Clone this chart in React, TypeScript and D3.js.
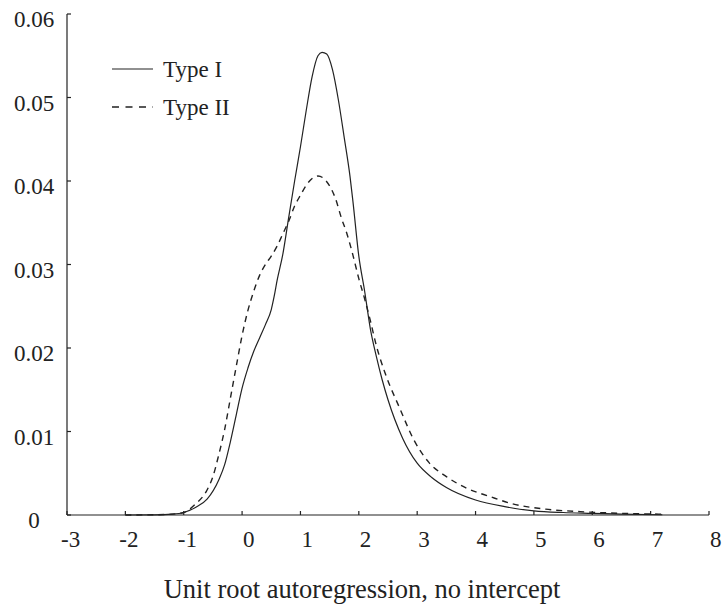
import React from "react";
import * as d3 from "d3";

const xTicks = [-3, -2, -1, 0, 1, 2, 3, 4, 5, 6, 7, 8];
const yTicks = [0, 0.01, 0.02, 0.03, 0.04, 0.05, 0.06];
const yTickLabels = ["0", "0.01", "0.02", "0.03", "0.04", "0.05", "0.06"];
const seriesNames = ["Type I", "Type II"];
const xTitle = "Unit root autoregression, no intercept";

const typeIx = [-2.0, -1.5, -1.2, -1.0, -0.8, -0.6, -0.4, -0.3, -0.2, -0.1, 0.0, 0.1, 0.2, 0.3, 0.4, 0.5, 0.55, 0.6, 0.7, 0.8, 0.9, 1.0, 1.1, 1.2, 1.3, 1.37, 1.45, 1.55, 1.65, 1.75, 1.85, 1.9, 2.0, 2.1, 2.2, 2.3, 2.4, 2.5, 2.75, 3.0, 3.25, 3.5, 4.0, 4.5, 5.0, 5.5, 6.0, 6.5, 7.2];
const typeIy = [0, 0.00002, 0.0001, 0.0003, 0.0009, 0.0019, 0.0042, 0.006, 0.0088, 0.012, 0.0152, 0.0176, 0.0196, 0.0212, 0.0228, 0.0246, 0.0262, 0.0281, 0.0313, 0.0357, 0.04, 0.0441, 0.0485, 0.0525, 0.055, 0.0554, 0.0552, 0.0533, 0.0497, 0.0452, 0.0405, 0.0375, 0.031, 0.0268, 0.0222, 0.019, 0.0162, 0.0138, 0.0092, 0.0062, 0.0045, 0.0033, 0.0018, 0.001, 0.0005, 0.0003, 0.0002, 0.0001, 0.00003];

const typeIIx = [-2.0, -1.5, -1.2, -1.0, -0.8, -0.6, -0.5, -0.4, -0.3, -0.2, -0.1, 0.0, 0.1, 0.2, 0.3, 0.4, 0.5, 0.6, 0.7, 0.8, 0.9, 1.0, 1.1, 1.2, 1.3, 1.4, 1.5, 1.6, 1.7, 1.8, 1.9, 2.0, 2.1, 2.2, 2.3, 2.45, 2.7, 2.95, 3.2, 3.5, 3.85, 4.25, 4.6, 5.2, 5.8, 6.5, 7.2];
const typeIIy = [0, 0.00003, 0.0001, 0.0003, 0.0013, 0.003, 0.0046, 0.0072, 0.0102, 0.014, 0.0178, 0.0215, 0.0245, 0.0268, 0.0287, 0.03, 0.031, 0.0322, 0.0337, 0.0352, 0.037, 0.0383, 0.0395, 0.0403, 0.0406, 0.0403, 0.0394, 0.0379, 0.0356, 0.0336, 0.0311, 0.0283, 0.0259, 0.0232, 0.0203, 0.017, 0.0128, 0.0089, 0.0063, 0.0046, 0.0032, 0.0022, 0.0014, 0.0007, 0.0004, 0.0002, 0.0001];

const W = 724;
const H = 612;
const INK = "#222";
const FONT = "'Liberation Serif', 'Times New Roman', serif";

export default function App() {
  const x = d3.scaleLinear().domain([-3, 8]).range([67, 709]);
  const y = d3.scaleLinear().domain([0, 0.06]).range([515, 14]);
  const line = d3
    .line<[number, number]>()
    .x((d) => x(d[0]))
    .y((d) => y(d[1]))
    .curve(d3.curveMonotoneX);
  const s1 = typeIx.map((v, i) => [v, typeIy[i]] as [number, number]);
  const s2 = typeIIx.map((v, i) => [v, typeIIy[i]] as [number, number]);

  return (
    <svg
      width={W}
      height={H}
      style={{ position: "absolute", left: 0, top: 0, background: "#fff" }}
      fontFamily={FONT}
    >
      <rect width={W} height={H} fill="#fff" />
      {/* axes */}
      <line x1={x(-3)} x2={x(-3)} y1={y(0.06)} y2={y(0)} stroke={INK} strokeWidth={1.2} />
      <line x1={x(-3)} x2={x(8)} y1={y(0)} y2={y(0)} stroke={INK} strokeWidth={1.2} />
      {yTicks.map((t, i) => (
        <g key={"y" + i}>
          <line x1={x(-3)} x2={x(-3) + 4} y1={y(t)} y2={y(t)} stroke={INK} strokeWidth={1.2} />
          <text x={34} y={y(t) + 13} textAnchor="middle" fontSize={23} fill={INK}>
            {yTickLabels[i]}
          </text>
        </g>
      ))}
      {xTicks.map((t, i) => (
        <g key={"x" + i}>
          <line x1={x(t)} x2={x(t)} y1={y(0)} y2={y(0) - 4} stroke={INK} strokeWidth={1.2} />
          <text x={x(t) + (t < 0 ? -6 : 1)} y={547} textAnchor="start" fontSize={23} fill={INK}>
            {String(t)}
          </text>
        </g>
      ))}
      <text x={362} y={598} textAnchor="middle" fontSize={26.5} fill={INK}>
        {xTitle}
      </text>
      {/* series */}
      <path d={line(s1) || ""} fill="none" stroke={INK} strokeWidth={1.2} />
      <path d={line(s2) || ""} fill="none" stroke={INK} strokeWidth={1.4} strokeDasharray="6,5" />
      {/* legend */}
      <line x1={112} x2={153} y1={69} y2={69} stroke={INK} strokeWidth={1.2} />
      <text x={163} y={77} fontSize={23} fill={INK}>
        {seriesNames[0]}
      </text>
      <line x1={112} x2={153} y1={107} y2={107} stroke={INK} strokeWidth={1.4} strokeDasharray="7,6.5" />
      <text x={163} y={115} fontSize={23} fill={INK}>
        {seriesNames[1]}
      </text>
    </svg>
  );
}
